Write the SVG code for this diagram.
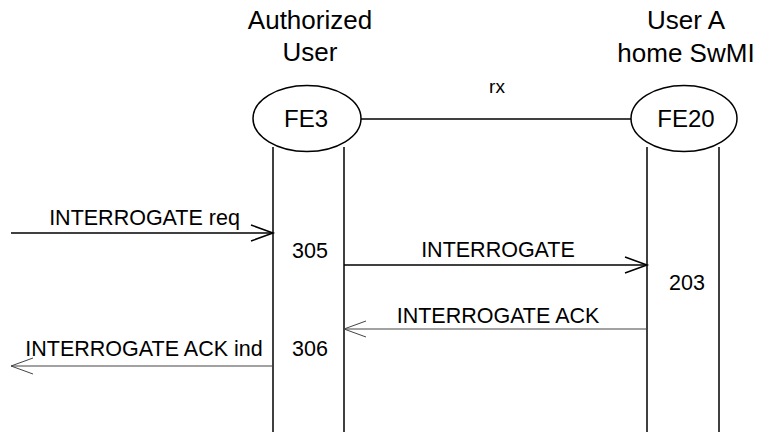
<svg xmlns="http://www.w3.org/2000/svg" width="761" height="432" viewBox="0 0 761 432">
<defs>
<style>
text{font-family:"Liberation Sans",Arial,sans-serif;fill:#000}
.t{font-size:26px;text-anchor:middle}
.n{font-size:24px;text-anchor:middle}
.l{font-size:21.5px;text-anchor:middle}
.s{stroke:#000;stroke-width:1.5;fill:none}
.g{stroke:#444;stroke-width:1;fill:none}
</style>
</defs>
<rect width="761" height="432" fill="#fff"/>
<g id="fe3">
<text class="t" x="310" y="29">Authorized</text>
<text class="t" x="310" y="61">User</text>
<ellipse class="s" cx="307" cy="118.5" rx="54" ry="33"/>
<text class="n" x="306" y="127">FE3</text>
<line class="s" x1="273" y1="147" x2="273" y2="432"/>
<line class="s" x1="344" y1="147" x2="344" y2="432"/>
<text class="l" x="310" y="258">305</text>
<text class="l" x="310" y="356">306</text>
</g>
<g id="fe20">
<text class="t" x="686" y="29">User A</text>
<text class="t" x="686" y="62">home SwMI</text>
<ellipse class="s" cx="684" cy="118.5" rx="53" ry="33"/>
<text class="n" x="686" y="127">FE20</text>
<line class="s" x1="647" y1="147" x2="647" y2="432"/>
<line class="s" x1="719" y1="147" x2="719" y2="432"/>
<text class="l" x="687" y="290">203</text>
</g>
<g id="connectors">
<line class="s" x1="361" y1="119" x2="631" y2="119"/>
<text class="l" x="497" y="93" style="font-size:19px">rx</text>
<line class="s" x1="11" y1="233" x2="273" y2="233"/>
<polyline class="s" points="251,225 273,233 251,241"/>
<text class="l" x="144.5" y="225">INTERROGATE req</text>
<line class="s" x1="344" y1="265" x2="647" y2="265"/>
<polyline class="s" points="625,257 647,265 625,273"/>
<text class="l" x="498" y="257">INTERROGATE</text>
<line class="g" x1="647" y1="329" x2="344" y2="329"/>
<polyline class="g" points="366,321 344,329 366,337"/>
<text class="l" x="498" y="323">INTERROGATE ACK</text>
<line class="g" x1="273" y1="366" x2="11" y2="366"/>
<polyline class="g" points="33,358 11,366 33,374"/>
<text class="l" x="144" y="356">INTERROGATE ACK ind</text>
</g>
</svg>
